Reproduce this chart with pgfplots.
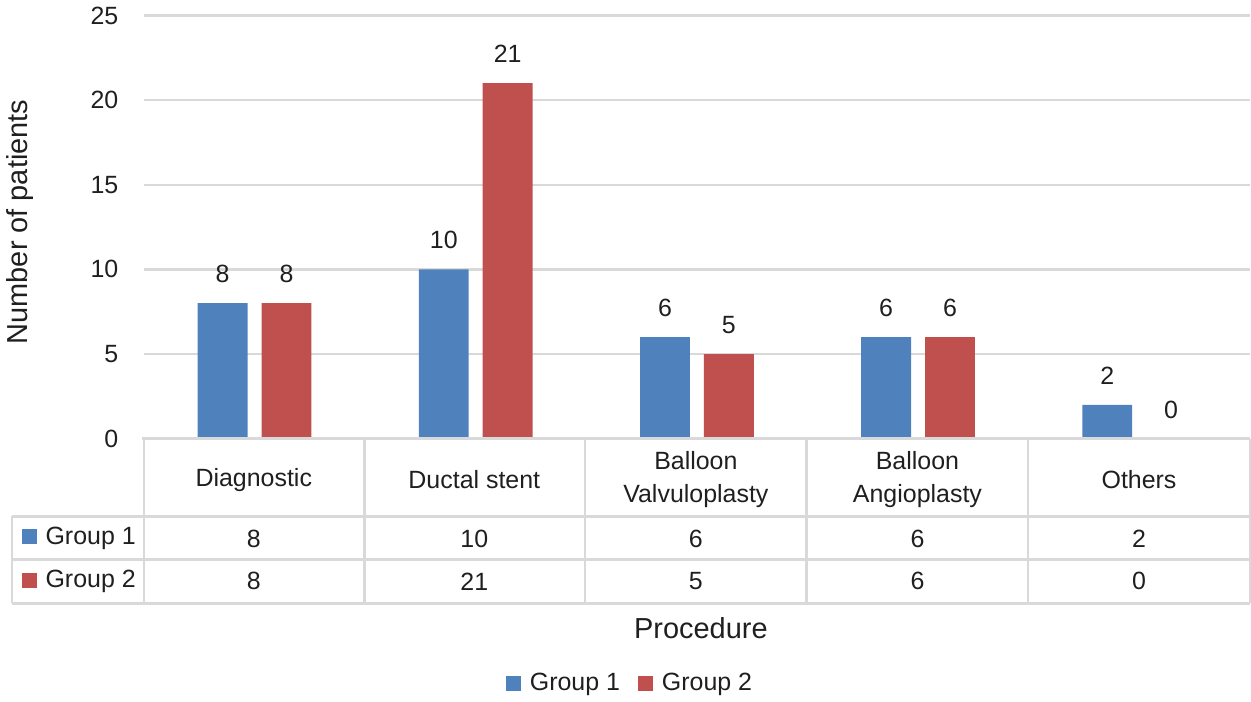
\documentclass[border=0pt]{standalone}
\usepackage{pgfplots}
\pgfplotsset{compat=1.18}
\usepackage{fontspec}
\setmainfont{Liberation Sans}
\definecolor{gblue}{HTML}{4F81BD}
\definecolor{gred}{HTML}{C0504D}
\definecolor{gridc}{HTML}{D9D9D9}
\definecolor{txt}{HTML}{1F1F1F}
\begin{document}
\begin{tikzpicture}[font=\fontsize{12.5}{16.5}\selectfont, text=txt]
\begin{scope}[x=0.5pt,y=-0.5pt,shift={(-142,-438)}]
\useasboundingbox (0,0) rectangle (1251,698);
\end{scope}
\begin{axis}[name=ax, at={(0,0)}, anchor=south west, scale only axis,
  width=554pt, height=212pt,
  xmin=-0.5, xmax=4.5, ymin=0, ymax=25,
  ytick={0,5,...,25}, xtick=\empty,
  axis line style={draw=none},
  ymajorgrids, grid style={gridc, line width=1.2pt},
  major tick length=0pt,
  /pgf/number format/assume math mode=true,
  yticklabel style={anchor=east, xshift=-9.3pt, font=\fontsize{12.5}{15}\selectfont},
  ybar=7pt, bar width=25pt,
  clip=false,
  nodes near coords,
  every node near coord/.append style={anchor=south, inner sep=0pt, yshift=10pt, font=\fontsize{12.5}{15}\selectfont, text=txt},
  ylabel={Number of patients},
  ylabel style={at={(rel axis cs:-0.112,0.512)}, anchor=center, font=\fontsize{14.5}{17}\selectfont},
  xlabel={Procedure},
  xlabel style={at={(rel axis cs:0.5036,-0.448)}, anchor=center, font=\fontsize{14.5}{17}\selectfont},
  legend style={at={(rel axis cs:0.4404,-0.578)}, anchor=center, draw=none, fill=none,
    legend columns=2,
    /tikz/every odd column/.append style={column sep=2.5pt},
    /tikz/every even column/.append style={column sep=7pt},
    font=\fontsize{12.5}{15}\selectfont},
  legend image code/.code={\fill[#1] (0pt,-3.75pt) rectangle (7.5pt,3.75pt);},
]
\addplot[fill=gblue, draw=none] coordinates {(0,8) (1,10) (2,6) (3,6) (4,2)};
\addplot[fill=gred, draw=none] coordinates {(0,8) (1,21) (2,5) (3,6) (4,0)};
\legend{Group 1, Group 2}
\end{axis}
\begin{scope}[x=0.5pt,y=-0.5pt,shift={(-142,-438)}]
\draw[gridc, line width=1.2pt] (140,438) -- (1250,438);
\draw[gridc, line width=1.2pt] (10,516) -- (1250,516);
\draw[gridc, line width=1.2pt] (10,559) -- (1250,559);
\draw[gridc, line width=1.2pt] (10,603) -- (1250,603);
\draw[gridc, line width=1.2pt] (10,516) -- (10,603);
\foreach \xx in {142,363,584,806,1028,1250} {
  \draw[gridc, line width=1.2pt] (\xx,438) -- (\xx,603);
}
\node[align=center] at (252,479) {Diagnostic};
\node[align=center] at (473,479) {Ductal stent};
\node[align=center] at (695,479) {Balloon\\Valvuloplasty};
\node[align=center] at (917,479) {Balloon\\Angioplasty};
\node[align=center] at (1139,479) {Others};
\fill[gblue] (20,529) rectangle (35,544);
\node[anchor=west, inner sep=0pt] at (43,538) {Group 1};
\fill[gred] (20,573) rectangle (35,588);
\node[anchor=west, inner sep=0pt] at (43,581) {Group 2};
\node at (252,538) {8};
\node at (473,538) {10};
\node at (695,538) {6};
\node at (917,538) {6};
\node at (1139,538) {2};
\node at (252,581) {8};
\node at (473,581) {21};
\node at (695,581) {5};
\node at (917,581) {6};
\node at (1139,581) {0};
\end{scope}
\end{tikzpicture}
\end{document}
